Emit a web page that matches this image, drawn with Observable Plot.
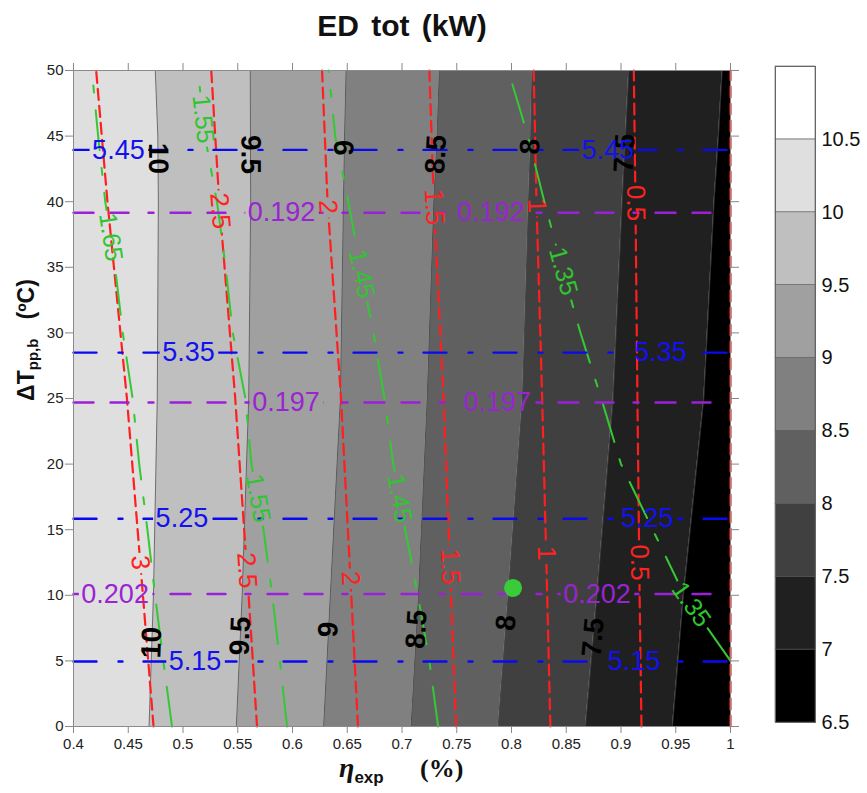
<!DOCTYPE html>
<html><head><meta charset="utf-8">
<script src="https://cdn.jsdelivr.net/npm/d3@7"></script>
<script src="https://cdn.jsdelivr.net/npm/@observablehq/plot@0.6"></script>
<style>
html,body{margin:0;padding:0;background:#fff;}
#wrap{position:relative;width:867px;height:793px;overflow:hidden;font-family:"Liberation Sans",Arial,sans-serif;color:#111;}
.abs{position:absolute;z-index:3;white-space:nowrap;}
#main,#cbar{position:absolute;top:50px;}
#main{left:0;} #cbar{left:760px;z-index:2;}
</style></head><body>
<div id="wrap">
  <div id="title" class="abs" style="left:402px;top:11px;transform:translateX(-50%);font-weight:bold;font-size:30px;line-height:1;word-spacing:4px;">ED tot (kW)</div>
  <div id="ylab" class="abs" style="left:26px;top:340px;transform:translate(-50%,-50%) rotate(-90deg);font-weight:bold;font-size:23px;line-height:1;">ΔT<span style="font-size:15px;position:relative;top:4px;">pp,b</span>&nbsp;&nbsp;&nbsp;(ºC)</div>
  <div id="xlab1" class="abs" style="left:339px;top:754px;font-family:'Liberation Serif','Times New Roman',serif;font-style:italic;font-weight:bold;font-size:28px;line-height:1;">η<span style="font-family:'Liberation Sans',Arial,sans-serif;font-style:normal;font-size:17px;position:relative;top:6px;">exp</span></div>
  <div id="xlab2" class="abs" style="left:420px;top:756px;font-family:'Liberation Serif','Times New Roman',serif;font-weight:bold;font-size:26px;line-height:1;">(%)</div>
  <div id="main"></div>
  <div id="cbar"></div>
</div>
<script>
// ---------- data ----------
const xTicks = [0.4, 0.45, 0.5, 0.55, 0.6, 0.65, 0.7, 0.75, 0.8, 0.85, 0.9, 0.95, 1];
const yTicks = [0, 5, 10, 15, 20, 25, 30, 35, 40, 45, 50];

// filled contour boundaries (ED tot levels), x at each fillY
const fillY = [0, 10, 25, 40, 45, 50];
const fillLevels = ["10", "9.5", "9", "8.5", "8", "7.5", "7"];
const fillBoundaryX = [
  [0.469, 0.473, 0.4765, 0.4775, 0.477, 0.4747],
  [0.5487, 0.554, 0.560, 0.5618, 0.5616, 0.5614],
  [0.6284, 0.6345, 0.6437, 0.6465, 0.6475, 0.6489],
  [0.7083, 0.715, 0.723, 0.729, 0.732, 0.7341],
  [0.7878, 0.797, 0.810, 0.8155, 0.8175, 0.8188],
  [0.8675, 0.878, 0.8928, 0.901, 0.904, 0.9071],
  [0.947, 0.957, 0.9756, 0.985, 0.989, 0.9924]
];
const fillLabelLevels = ["10", "9.5", "9", "8.5", "8", "7.5"];
const fillLabelTopY = [43.3, 43.6, 44.1, 43.6, 44.2, 43.7];
const fillLabelBottomY = [6.4, 6.9, 7.4, 7.4, 7.9, 6.8];

// colour bar
const cbLower = [6.5, 7, 7.5, 8, 8.5, 9, 9.5, 10, 10.5];
const cbTicks = [6.5, 7, 7.5, 8, 8.5, 9, 9.5, 10, 10.5];

// red dashed contours
const redY = [0, 10, 25, 40, 50];
const redLevels = ["3", "2.5", "2", "1.5", "1", "0.5", "0"];
const redX = [
  [0.4731, 0.4634, 0.4488, 0.431, 0.4207],
  [0.5676, 0.5599, 0.5477, 0.5331, 0.5258],
  [0.6598, 0.6537, 0.6443, 0.632, 0.627],
  [0.7494, 0.7448, 0.738, 0.729, 0.725],
  [0.8355, 0.8326, 0.828, 0.8228, 0.8203],
  [0.9187, 0.917, 0.915, 0.9132, 0.9117],
  [1, 1, 1, 1, 1]
];
const redLabelY = [[12.5], [39.3, 11.9], [39.6, 11.3], [39.6, 12.2], [39.7, 13.2], [39.9, 12.5], []];

// green dash-dot contours
const greenY = [0, 5, 10, 15, 20, 25, 30, 35, 40, 45, 50];
const greenLevels = ["1.65", "1.55", "1.45", "1.35"];
const greenX = [
  [0.490, 0.482, 0.4745, 0.4675, 0.460, 0.454, 0.445, 0.438, 0.429, 0.4225, 0.4168],
  [0.595, 0.5885, 0.5815, 0.5735, 0.5625, 0.557, 0.5455, 0.539, 0.531, 0.520, 0.5137],
  [0.733, 0.725, 0.7145, 0.703, 0.692, 0.684, 0.674, 0.662, 0.651, 0.639, 0.633],
  [null, 1.0, 0.958, 0.929, 0.900, 0.882, 0.863, 0.846, 0.830, 0.815, 0.797]
];
const greenLabelY = [[37.3], [46.3, 17.4], [34.5, 17.4], [34.7, 9.3]];

// blue horizontal contours
const blueLevels = ["5.45", "5.35", "5.25", "5.15"];
const blueY = [43.95, 28.5, 15.83, 4.96];
const blueLabelX = [[0.441, 0.888], [0.505, 0.936], [0.499, 0.924], [0.511, 0.912]];

// purple horizontal contours
const purpleLevels = ["0.192", "0.197", "0.202"];
const purpleY = [39.16, 24.69, 10.1];
const purpleLabelX = [[0.590, 0.781], [0.594, 0.787], [0.438, 0.878]];

// highlighted design point
const optimumX = [0.8014];
const optimumY = [10.56];

// ---------- styles ----------
const grays = ["#000000", "#202020", "#404040", "#606060", "#808080", "#a0a0a0", "#bfbfbf", "#dfdfdf", "#ffffff"];
const RED = "#ff1f1f", RED_T = "#ff2222";
const GREEN = "#35c835", GREEN_T = "#30c530";
const BLUE = "#0a0af0", BLUE_T = "#1212ee";
const PURPLE = "#9b20d6", PURPLE_T = "#9a24d2";

const W = 867, H = 743, ML = 73, MR = 137, MT = 20, MB = 67;
const xDomain = [0.4, 1], yDomain = [0, 50];
const kx = (W - ML - MR) / (xDomain[1] - xDomain[0]);
const ky = (H - MT - MB) / (yDomain[1] - yDomain[0]);

function interp(ys, xs, y) {
  const pts = ys.map((v, i) => [v, xs[i]]).filter(p => p[1] != null);
  for (let i = 0; i < pts.length - 1; i++) {
    const [y0, x0] = pts[i], [y1, x1] = pts[i + 1];
    if (y >= y0 && y <= y1) {
      const t = (y - y0) / (y1 - y0);
      return {x: x0 + t * (x1 - x0), s: (x1 - x0) / (y1 - y0)};
    }
  }
  const [y0, x0] = pts[0], [y1, x1] = pts[1];
  return {x: x0, s: (x1 - x0) / (y1 - y0)};
}
function angle(s) {
  let a = Math.atan2(-ky, s * kx) * 180 / Math.PI;
  if (a <= -90) a += 180;
  if (a > 90) a -= 180;
  return a;
}
function lineRows(ys, xsList, levels) {
  return xsList.flatMap((xs, i) => ys.map((y, j) => ({x: xs[j], y, k: levels[i]})).filter(d => d.x != null));
}
function vLabels(ys, xsList, levels, labelYs) {
  return levels.flatMap((lv, i) => labelYs[i].map(y => {
    const r = interp(ys, xsList[i], y);
    return {x: r.x, y, text: lv, rot: angle(r.s)};
  }));
}
function hRows(yList, levels) {
  return yList.flatMap((y, i) => xDomain.map(x => ({x, y, k: levels[i]})));
}
function hLabels(yList, levels, labelXs) {
  return levels.flatMap((lv, i) => labelXs[i].map(x => ({x, y: yList[i], text: lv, rot: 0})));
}

// band polygons
const bandMarks = [];
for (let i = 0; i <= fillBoundaryX.length; i++) {
  const left = i === 0 ? fillY.map(() => xDomain[0]) : fillBoundaryX[i - 1];
  const right = i === fillBoundaryX.length ? fillY.map(() => xDomain[1]) : fillBoundaryX[i];
  const rows = fillY.map((y, j) => ({y, x1: left[j], x2: right[j]}));
  bandMarks.push(Plot.areaX(rows, {y: "y", x1: "x1", x2: "x2", fill: grays[7 - i]}));
}

const fillLabels = fillLabelLevels.flatMap((lv, i) => [fillLabelTopY[i], fillLabelBottomY[i]].map(y => {
  const r = interp(fillY, fillBoundaryX[i], y);
  return {x: r.x, y, text: lv, rot: angle(r.s)};
}));

const txt = (data, fill, size, weight) => Plot.text(data, {
  x: "x", y: "y", text: "text", rotate: "rot", fill, fontSize: size, fontWeight: weight
});

const fmt = d => String(+d.toFixed(2));

const main = Plot.plot({
  width: W, height: H, marginLeft: ML, marginRight: MR, marginTop: MT, marginBottom: MB,
  x: {domain: xDomain, label: null},
  y: {domain: yDomain, label: null},
  style: {fontFamily: "'Liberation Sans', Arial, sans-serif", background: "transparent", overflow: "visible"},
  marks: [
    ...bandMarks,
    Plot.line(lineRows(fillY, fillBoundaryX, fillLevels), {x: "x", y: "y", z: "k", stroke: "#4a4a4a", strokeWidth: 0.7}),
    Plot.line(lineRows(redY, redX, redLevels), {x: "x", y: "y", z: "k", stroke: RED, strokeWidth: 2.2, strokeDasharray: "11,6"}),
    Plot.line(lineRows(greenY, greenX, greenLevels), {x: "x", y: "y", z: "k", stroke: GREEN, strokeWidth: 2, strokeDasharray: "40,18,7,18"}),
    Plot.line(hRows(blueY, blueLevels), {x: "x", y: "y", z: "k", stroke: BLUE, strokeWidth: 2.4, strokeDasharray: "23,22,4,21"}),
    Plot.line(hRows(purpleY, purpleLevels), {x: "x", y: "y", z: "k", stroke: PURPLE, strokeWidth: 2.4, strokeDasharray: "20,17,18,20,5,17"}),
    Plot.frame({stroke: "#8a8a8a"}),
    Plot.axisX({anchor: "bottom", ticks: xTicks, tickFormat: fmt, tickSize: 7, tickPadding: 5, fontSize: 15, stroke: "#888", fill: "#222", label: null}),
    Plot.axisX({anchor: "top", ticks: xTicks, tickFormat: () => "", tickSize: 8, stroke: "#888", label: null}),
    Plot.axisY({anchor: "left", ticks: yTicks, tickFormat: d => String(d), tickSize: 8, tickPadding: 2, fontSize: 15, stroke: "#888", fill: "#222", label: null}),
    Plot.axisY({anchor: "right", ticks: yTicks, tickFormat: () => "", tickSize: 8, stroke: "#888", label: null}),
    txt(fillLabels, "#000000", 28, "bold"),
    txt(vLabels(redY, redX, redLevels, redLabelY), RED_T, 26, "normal"),
    txt(vLabels(greenY, greenX, greenLevels, greenLabelY), GREEN_T, 25, "normal"),
    txt(hLabels(blueY, blueLevels, blueLabelX), BLUE_T, 27, "normal"),
    txt(hLabels(purpleY, purpleLevels, purpleLabelX), PURPLE_T, 27, "normal"),
    Plot.dot(optimumX.map((x, i) => ({x, y: optimumY[i]})), {x: "x", y: "y", r: 9, fill: "#3acb3a", stroke: "none"})
  ]
});
document.getElementById("main").appendChild(main);

// gaps in contour lines under their own labels
function gapMask(svg, stroke, fill, id, padAlong, padAcross) {
  const ns = "http://www.w3.org/2000/svg";
  let defs = svg.querySelector("defs");
  if (!defs) { defs = document.createElementNS(ns, "defs"); svg.insertBefore(defs, svg.firstChild); }
  const mask = document.createElementNS(ns, "mask");
  mask.setAttribute("id", id);
  mask.setAttribute("maskUnits", "userSpaceOnUse");
  mask.setAttribute("x", -20); mask.setAttribute("y", -20);
  mask.setAttribute("width", W + 40); mask.setAttribute("height", H + 40);
  const bg = document.createElementNS(ns, "rect");
  bg.setAttribute("x", -20); bg.setAttribute("y", -20);
  bg.setAttribute("width", W + 40); bg.setAttribute("height", H + 40);
  bg.setAttribute("fill", "white");
  mask.appendChild(bg);
  const texts = [...svg.querySelectorAll('g[aria-label="text"]')]
    .filter(g => g.getAttribute("fill") === fill)
    .flatMap(g => [...g.querySelectorAll("text")]);
  for (const t of texts) {
    const b = t.getBBox(), m = t.getCTM();
    const r = document.createElementNS(ns, "rect");
    r.setAttribute("x", b.x - padAlong); r.setAttribute("y", b.y + padAcross);
    r.setAttribute("width", b.width + 2 * padAlong); r.setAttribute("height", Math.max(1, b.height - 2 * padAcross));
    r.setAttribute("fill", "black");
    r.setAttribute("transform", `matrix(${m.a},${m.b},${m.c},${m.d},${m.e},${m.f})`);
    mask.appendChild(r);
  }
  defs.appendChild(mask);
  [...svg.querySelectorAll('g[aria-label="line"]')]
    .filter(g => g.getAttribute("stroke") === stroke)
    .forEach(g => g.setAttribute("mask", `url(#${id})`));
}
gapMask(main, RED, RED_T, "gapRed", 3, 4);
gapMask(main, GREEN, GREEN_T, "gapGreen", 3, 4);
gapMask(main, BLUE, BLUE_T, "gapBlue", 3, 4);
gapMask(main, PURPLE, PURPLE_T, "gapPurple", 3, 4);

// colour bar
const cb = Plot.plot({
  width: 107, height: H, marginLeft: 15, marginRight: 52, marginTop: 16, marginBottom: H - 16 - 656,
  x: {domain: [0, 1], axis: null},
  y: {domain: [6.5, 11], label: null},
  color: {type: "identity"},
  style: {fontFamily: "'Liberation Sans', Arial, sans-serif", background: "transparent", overflow: "visible"},
  marks: [
    Plot.rect(cbLower, {x1: 0, x2: 1, y1: d => d, y2: d => d + 0.5, fill: (d, i) => grays[i], stroke: "#555", strokeWidth: 0.6}),
    Plot.frame({stroke: "#666"}),
    Plot.axisY({anchor: "right", ticks: cbTicks, tickFormat: d => String(d), tickSize: 0, tickPadding: 6, fontSize: 20, fill: "#111", label: null})
  ]
});
document.getElementById("cbar").appendChild(cb);
</script>
</body></html>
